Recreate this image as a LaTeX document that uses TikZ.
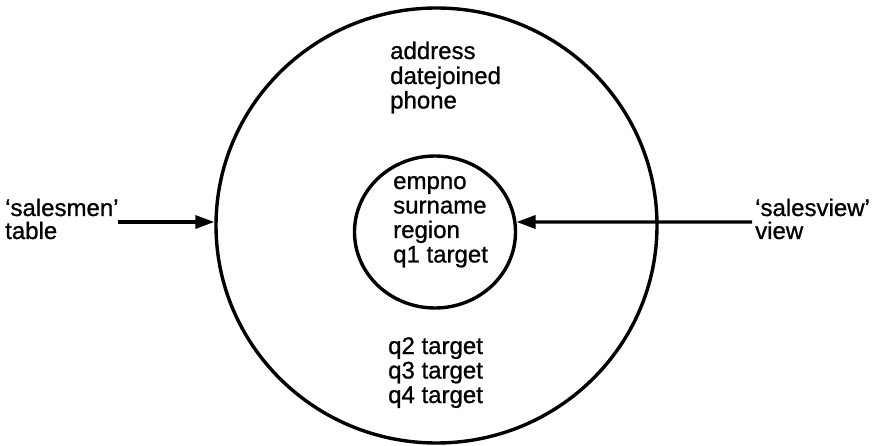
\documentclass[tikz,border=0pt]{standalone}
\usepackage{fontspec}
\setmainfont{Liberation Sans}
\newfontfamily\heavyfont{Liberation Sans}[FakeBold=0.9]
\usetikzlibrary{arrows.meta,shapes.geometric}
\begin{document}
\begin{tikzpicture}[x=1pt,y=-1pt,
  lbl/.style={inner sep=0pt,anchor=base west,font=\heavyfont\fontsize{24}{24}\selectfont},
  ring/.style={draw,ellipse,line width=3.4pt,inner sep=0pt},
  arr/.style={line width=3.4pt,-{Triangle[length=19pt,width=13pt]}}]
\useasboundingbox (0,0) rectangle (875,446);
\node[ring,minimum width=441pt,minimum height=435pt] (outer) at (436.5,225.5) {};
\node[ring,minimum width=161pt,minimum height=152pt] (inner) at (435,232) {};
% top block
\node[lbl] (t1) at (390,59) {address};
\node[lbl] (t2) at (390,84) {datejoined};
\node[lbl] (t3) at (390,108.5) {phone};
% inner block
\node[lbl] (i1) at (393,189) {empno};
\node[lbl] (i2) at (393,213.5) {surname};
\node[lbl] (i3) at (393,238) {region};
\node[lbl] (i4) at (393,262.5) {q1 target};
% bottom block
\node[lbl] (b1) at (388,354) {q2 target};
\node[lbl] (b2) at (388,378.5) {q3 target};
\node[lbl] (b3) at (388,403) {q4 target};
% left label
\node[lbl] (l1) at (5,216) {‘salesmen’};
\node[lbl] (l2) at (5,239) {table};
% right label
\node[lbl] (r1) at (755,216) {‘salesview’};
\node[lbl] (r2) at (755,239) {view};
\coordinate (lstart) at (118,222);
\coordinate (rstart) at (752,222);
\draw[arr] (lstart) -- (lstart -| outer.west);
\draw[arr] (rstart) -- (inner.7);
\end{tikzpicture}
\end{document}
